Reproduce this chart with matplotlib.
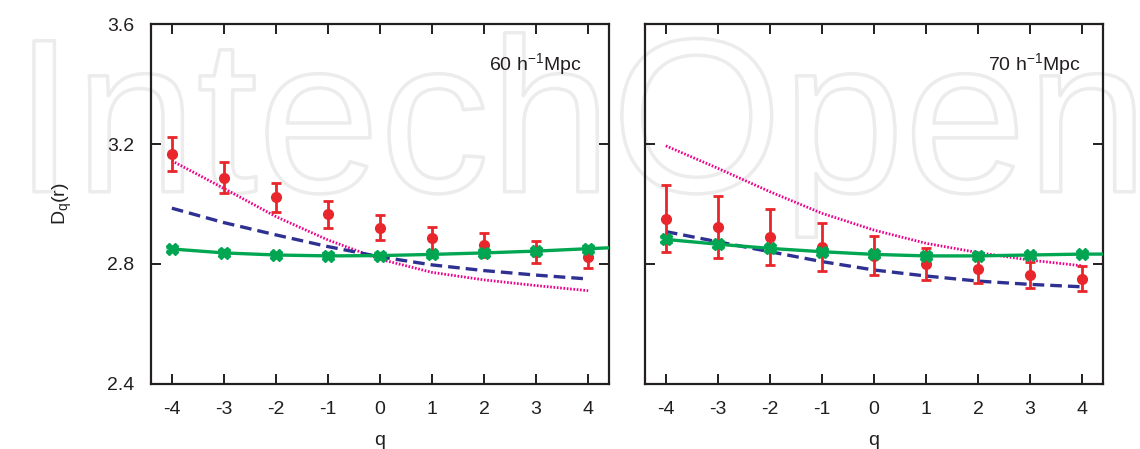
import matplotlib
matplotlib.use("Agg")
import matplotlib.pyplot as plt
import matplotlib.patheffects as pe
import numpy as np

plt.rcParams['font.family'] = ['Liberation Sans', 'DejaVu Sans']
plt.rcParams['mathtext.fontset'] = 'custom'
plt.rcParams['mathtext.rm'] = 'Liberation Sans'
plt.rcParams['mathtext.it'] = 'Liberation Sans'

q = [-4, -3, -2, -1, 0, 1, 2, 3, 4]
xticklabels = ['-4', '-3', '-2', '-1', '0', '1', '2', '3', '4']
yticks = [2.4, 2.8, 3.2, 3.6]
yticklabels = ['2.4', '2.8', '3.2', '3.6']
panel_titles = ['60 h$^{\\mathregular{-1}}$Mpc', '70 h$^{\\mathregular{-1}}$Mpc']

# 60 h^-1 Mpc
red_60 = [3.167, 3.088, 3.022, 2.966, 2.921, 2.886, 2.863, 2.840, 2.823]
red_60_err = [0.057, 0.052, 0.047, 0.045, 0.042, 0.039, 0.039, 0.037, 0.036]
green_60 = [2.850, 2.837, 2.830, 2.827, 2.828, 2.832, 2.837, 2.843, 2.851]
green_60_line_q = [-4, -3, -2, -1, 0, 1, 2, 3, 4, 4.4]
green_60_line = [2.850, 2.837, 2.830, 2.827, 2.828, 2.832, 2.837, 2.843, 2.851, 2.854]
blue_60 = [2.986, 2.938, 2.897, 2.858, 2.824, 2.797, 2.778, 2.763, 2.750]
magenta_60 = [3.144, 3.052, 2.958, 2.880, 2.816, 2.772, 2.747, 2.728, 2.711]

# 70 h^-1 Mpc
red_70 = [2.951, 2.923, 2.891, 2.858, 2.828, 2.800, 2.782, 2.764, 2.751]
red_70_err = [0.112, 0.104, 0.094, 0.080, 0.066, 0.053, 0.046, 0.043, 0.042]
green_70 = [2.882, 2.866, 2.852, 2.841, 2.832, 2.827, 2.827, 2.830, 2.833]
green_70_line_q = [-4, -3, -2, -1, 0, 1, 2, 3, 4, 4.4]
green_70_line = [2.882, 2.866, 2.852, 2.841, 2.832, 2.827, 2.827, 2.830, 2.833, 2.833]
blue_70 = [2.908, 2.874, 2.841, 2.808, 2.780, 2.760, 2.743, 2.732, 2.724]
magenta_70 = [3.194, 3.119, 3.041, 2.969, 2.913, 2.869, 2.838, 2.813, 2.794]

green_err = 0.008

RED = '#e8262b'
GREEN = '#00a651'
BLUE = '#2e3192'
MAGENTA = '#ec008c'
SPINE = '#231f20'

fig = plt.figure(figsize=(11.4, 4.49), dpi=100)
fig.patch.set_facecolor('white')

# faint watermark (outline only, behind everything)
fig.text(0.012, 0.573, 'IntechOpen', fontsize=158, color='none', zorder=-5,
         family='Liberation Sans', va='baseline', ha='left',
         path_effects=[pe.Stroke(linewidth=2.5, foreground='#ececec')])

ax1 = fig.add_axes([0.1325, 0.1448, 0.4017, 0.8017])
ax2 = fig.add_axes([0.5658, 0.1448, 0.4017, 0.8017])

datasets = [
    (ax1, red_60, red_60_err, green_60, green_60_line_q, green_60_line, blue_60, magenta_60, panel_titles[0], 0.940),
    (ax2, red_70, red_70_err, green_70, green_70_line_q, green_70_line, blue_70, magenta_70, panel_titles[1], 0.952),
]

for ax, red, rerr, green, glq, gl, blue, mag, title, tx in datasets:
    ax.set_facecolor('none')
    ax.set_zorder(1)
    ax.plot(q, mag, color=MAGENTA, lw=2.0, ls=(0, (0.6, 0.6)), zorder=2)
    ax.plot(q, blue, color=BLUE, lw=2.4, ls=(0, (3.5, 1.8)), zorder=3)
    ax.plot(glq, gl, color=GREEN, lw=2.4, zorder=4)
    ax.errorbar(q, red, yerr=rerr, fmt='o', color=RED, ms=7, elinewidth=2.0,
                capsize=3.3, capthick=2.0, zorder=5)
    ax.errorbar(q, green, yerr=[green_err] * len(q), fmt='X', color=GREEN, ms=8,
                elinewidth=2.0, capsize=4, capthick=2.5, zorder=6)
    ax.set_xlim(-4.4, 4.4)
    ax.set_ylim(2.4, 3.6)
    ax.set_xticks(q)
    ax.set_xticklabels(xticklabels)
    ax.set_yticks(yticks)
    ax.tick_params(direction='in', length=7, width=1.4, color=SPINE,
                   labelsize=14, top=True, right=True, labelcolor=SPINE)
    ax.tick_params(axis='x', pad=12)
    ax.tick_params(axis='y', pad=12)
    for s in ax.spines.values():
        s.set_linewidth(1.6)
        s.set_color(SPINE)
    ax.set_xlabel('q', fontsize=14, color=SPINE, labelpad=10)
    ax.text(tx, 0.89, title, transform=ax.transAxes, ha='right', va='center',
            fontsize=14, color=SPINE)

ax1.set_yticklabels(yticklabels)
ax2.set_yticklabels([])
ax1.set_ylabel('D$_{\\mathregular{q}}$(r)', fontsize=14, color=SPINE, labelpad=24)

fig.savefig('out.png', dpi=100)
